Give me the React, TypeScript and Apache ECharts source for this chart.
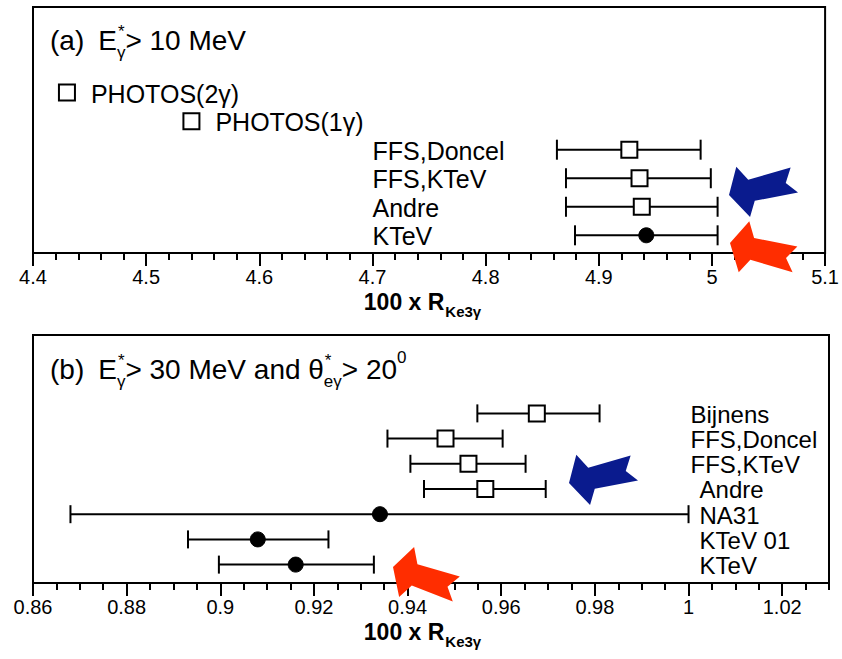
import React, { useEffect, useRef } from 'react';
import * as echarts from 'echarts';

// ---------- data ----------
// Panel (a): E*_gamma > 10 MeV, rows from top to bottom
const topNames = ['PHOTOS(2γ)', 'PHOTOS(1γ)', 'FFS,Doncel', 'FFS,KTeV', 'Andre', 'KTeV'];
const topValues = [4.43, 4.54, 4.927, 4.936, 4.938, 4.942];
const topLow: (number | null)[] = [null, null, 4.863, 4.871, 4.871, 4.879];
const topHigh: (number | null)[] = [null, null, 4.99, 4.999, 5.005, 5.005];
const topMeasured = [false, false, false, false, false, true];

// Panel (b): E*_gamma > 30 MeV and theta*_e_gamma > 20 deg, rows from top to bottom
const bottomNames = ['Bijnens', 'FFS,Doncel', 'FFS,KTeV', 'Andre', 'NA31', 'KTeV 01', 'KTeV'];
const bottomValues = [0.9676, 0.9481, 0.953, 0.9566, 0.9341, 0.908, 0.9161];
const bottomLow = [0.9549, 0.9357, 0.9406, 0.9435, 0.868, 0.8931, 0.8997];
const bottomHigh = [0.981, 0.9603, 0.9652, 0.9695, 1.0, 0.9231, 0.9328];
const bottomMeasured = [false, false, false, false, true, true, true];
const bottomTickValues = [0.86, 0.88, 0.9, 0.92, 0.94, 0.96, 0.98, 1.0, 1.02];

// ---------- styling ----------
const FONT = '"Liberation Sans", Arial, Helvetica, sans-serif';
const topLabelAnchor = 4.7; // x where row names start in panel (a)
const bottomLabelAnchor = 1.0; // x where row names start in panel (b)
const bottomLabelIndent = [2, 2, 2, 11, 11, 11, 11];
const TOP_ROW_FONT = 25;
const BOTTOM_ROW_FONT = 24;
const TITLE_SIZE = 28;
const SUB_SIZE = 17;
const NAME_SIZE = 23;
const NAME_SUB_SIZE = 15;

let measureCtx: CanvasRenderingContext2D | null = null;
function textWidth(text: string, size: number, weight = 'normal') {
  if (!measureCtx) measureCtx = document.createElement('canvas').getContext('2d');
  if (!measureCtx) return text.length * size * 0.55;
  measureCtx.font = `${weight} ${size}px ${FONT}`;
  return measureCtx.measureText(text).width;
}

type Piece = { text: string; kind: 'main' | 'sub' | 'sup' | 'subsup'; sup?: string; gap?: number };

function titleGraphics(pieces: Piece[], x0: number, yc: number) {
  const out: any[] = [];
  let x = x0;
  const mk = (text: string, x: number, y: number, size: number) => ({
    type: 'text', x, y,
    style: { text, fontSize: size, fontFamily: FONT, fill: '#000', verticalAlign: 'middle', align: 'left' },
  });
  for (const p of pieces) {
    x += p.gap || 0;
    if (p.kind === 'main') {
      out.push(mk(p.text, x, yc, TITLE_SIZE));
      x += textWidth(p.text, TITLE_SIZE);
    } else if (p.kind === 'sup') {
      out.push(mk(p.text, x, yc - 12, SUB_SIZE));
      x += textWidth(p.text, SUB_SIZE);
    } else {
      out.push(mk(p.text, x, yc + 12, SUB_SIZE));
      if (p.sup) out.push(mk(p.sup, x + 1, yc - 9, SUB_SIZE));
      x += Math.max(textWidth(p.text, SUB_SIZE), p.sup ? textWidth(p.sup, SUB_SIZE) : 0);
    }
  }
  return out;
}

function axisNameGraphics(xCenter: number, yc: number) {
  const main = '100 x R';
  const sub = 'Ke3γ';
  const wMain = textWidth(main, NAME_SIZE, 'bold');
  const wSub = textWidth(sub, NAME_SUB_SIZE, 'bold');
  const x0 = xCenter - (wMain + wSub) / 2;
  return [
    { type: 'text', x: x0, y: yc, style: { text: main, fontSize: NAME_SIZE, fontWeight: 'bold', fontFamily: FONT, fill: '#000', align: 'left', verticalAlign: 'middle' } },
    { type: 'text', x: x0 + wMain + 1, y: yc + 9, style: { text: sub, fontSize: NAME_SUB_SIZE, fontWeight: 'bold', fontFamily: FONT, fill: '#000', align: 'left', verticalAlign: 'middle' } },
  ];
}

function arrowPoints(tipX: number, tipY: number, angleDeg: number) {
  const local = [
    [0, 0], [13, -26], [22, -11], [66, -14], [58, 0], [68, 12], [24, 11], [16, 26],
  ];
  const a = (angleDeg * Math.PI) / 180;
  const c = Math.cos(a);
  const s = Math.sin(a);
  return local.map(([x, y]) => [tipX + x * c - y * s, tipY + x * s + y * c]);
}

function makeRows(names: string[], values: number[], low: (number | null)[], high: (number | null)[], measured: boolean[]) {
  const n = names.length;
  return names.map((name, i) => ({
    name, value: values[i], low: low[i], high: high[i], measured: measured[i], y: n - 1 - i, idx: i,
  }));
}

const fmt = (v: number) => String(parseFloat(v.toFixed(3)));

export default function App() {
  const ref = useRef<HTMLDivElement>(null);

  useEffect(() => {
    if (!ref.current) return;
    const chart = echarts.init(ref.current, undefined, { renderer: 'svg' });

    const topRows = makeRows(topNames, topValues, topLow, topHigh, topMeasured);
    const botRows = makeRows(bottomNames, bottomValues, bottomLow, bottomHigh, bottomMeasured);

    const errRender = (capHalf: number) => (params: any, api: any) => {
      const y = api.value(2);
      const p1 = api.coord([api.value(0), y]);
      const p2 = api.coord([api.value(1), y]);
      const st = { stroke: '#000', lineWidth: 2 };
      return {
        type: 'group',
        children: [
          { type: 'line', shape: { x1: p1[0], y1: p1[1], x2: p2[0], y2: p2[1] }, style: st },
          { type: 'line', shape: { x1: p1[0], y1: p1[1] - capHalf, x2: p1[0], y2: p1[1] + capHalf }, style: st },
          { type: 'line', shape: { x1: p2[0], y1: p2[1] - capHalf, x2: p2[0], y2: p2[1] + capHalf }, style: st },
        ],
      };
    };

    const pointData = (rows: any[]) =>
      rows.map((r) => ({
        value: [r.value, r.y],
        symbol: r.measured ? 'circle' : 'rect',
        symbolSize: r.measured ? 15 : 16,
        itemStyle: r.measured
          ? { color: '#000', borderColor: '#000', borderWidth: 1, opacity: 1 }
          : { color: '#fff', borderColor: '#000', borderWidth: 2, opacity: 1 },
      }));

    const minorBottom: number[] = [];
    for (let k = 0; k <= 34; k++) {
      const v = Math.round((0.86 + k * 0.005) * 1000) / 1000;
      if (k % 4 !== 0) minorBottom.push(v);
    }

    const rowText = (text: string, x: number, y: number, size: number) => ({
      type: 'text', x, y,
      style: { text, fill: '#000', fontSize: size, fontFamily: FONT, align: 'left', verticalAlign: 'middle' },
    });

    const option: any = {
      animation: false,
      backgroundColor: '#fff',
      grid: [
        { left: 33, right: 13, top: 7, height: 246, show: true, borderColor: '#000', borderWidth: 2, backgroundColor: 'transparent' },
        { left: 33, right: 13, top: 335, height: 248, show: true, borderColor: '#000', borderWidth: 2, backgroundColor: 'transparent' },
      ],
      xAxis: [
        {
          type: 'value', gridIndex: 0, min: 4.4, max: 5.1, interval: 0.1,
          axisLine: { show: true, onZero: false, lineStyle: { color: '#000', width: 2 } },
          splitLine: { show: false },
          axisTick: { show: true, length: 13, lineStyle: { color: '#000', width: 2 } },
          minorTick: { show: true, splitNumber: 5, length: 7, lineStyle: { color: '#000', width: 2 } },
          axisLabel: { color: '#000', fontSize: 20, fontFamily: FONT, margin: 14, formatter: (v: number) => fmt(v) },
        },
        {
          type: 'value', gridIndex: 1, min: 0.86, max: 1.03,
          axisLine: { show: true, onZero: false, lineStyle: { color: '#000', width: 2 } },
          splitLine: { show: false },
          axisTick: { show: true, length: 13, lineStyle: { color: '#000', width: 2 }, customValues: bottomTickValues },
          axisLabel: { color: '#000', fontSize: 20, fontFamily: FONT, margin: 14, customValues: bottomTickValues, formatter: (v: number) => fmt(v) },
        },
        {
          type: 'value', gridIndex: 1, min: 0.86, max: 1.03, position: 'bottom',
          axisLine: { show: false, onZero: false },
          splitLine: { show: false },
          axisTick: { show: true, length: 7, lineStyle: { color: '#000', width: 2 }, customValues: minorBottom },
          axisLabel: { show: false },
        },
      ],
      yAxis: [
        { type: 'value', gridIndex: 0, min: -0.62, max: 8, show: false },
        { type: 'value', gridIndex: 1, min: -0.73, max: 9.11, show: false },
      ],
      series: [
        {
          type: 'custom', xAxisIndex: 0, yAxisIndex: 0,
          renderItem: errRender(10), encode: { x: [0, 1], y: 2 },
          data: topRows.filter((r) => r.low !== null).map((r) => [r.low, r.high, r.y]),
          z: 2,
        },
        { type: 'scatter', xAxisIndex: 0, yAxisIndex: 0, data: pointData(topRows), z: 3 },
        {
          type: 'custom', xAxisIndex: 0, yAxisIndex: 0, encode: { x: 0, y: 1 },
          data: topRows.map((r) => [r.low !== null ? topLabelAnchor : r.value, r.y, r.idx]),
          renderItem: (params: any, api: any) => {
            const row = topRows[api.value(2)];
            const p = api.coord([api.value(0), api.value(1)]);
            const x = row.low !== null ? p[0] : p[0] + 24;
            return rowText(row.name, x, p[1] + 1, TOP_ROW_FONT);
          },
          z: 4,
        },
        {
          type: 'custom', xAxisIndex: 1, yAxisIndex: 1,
          renderItem: errRender(9), encode: { x: [0, 1], y: 2 },
          data: botRows.map((r) => [r.low, r.high, r.y]),
          z: 2,
        },
        { type: 'scatter', xAxisIndex: 1, yAxisIndex: 1, data: pointData(botRows), z: 3 },
        {
          type: 'custom', xAxisIndex: 1, yAxisIndex: 1, encode: { x: 0, y: 1 },
          data: botRows.map((r) => [bottomLabelAnchor, r.y, r.idx]),
          renderItem: (params: any, api: any) => {
            const row = botRows[api.value(2)];
            const p = api.coord([api.value(0), api.value(1)]);
            return rowText(row.name, p[0] + bottomLabelIndent[row.idx], p[1] + 1, BOTTOM_ROW_FONT);
          },
          z: 4,
        },
      ],
      graphic: [
        ...titleGraphics([
          { text: '(a)', kind: 'main' },
          { text: 'E', kind: 'main', gap: 14 },
          { text: 'γ', kind: 'subsup', sup: '*' },
          { text: '> 10 MeV', kind: 'main' },
        ], 50, 40),
        ...titleGraphics([
          { text: '(b)', kind: 'main' },
          { text: 'E', kind: 'main', gap: 14 },
          { text: 'γ', kind: 'subsup', sup: '*' },
          { text: '> 30 MeV and θ', kind: 'main' },
          { text: 'eγ', kind: 'subsup', sup: '*' },
          { text: '> 20', kind: 'main' },
          { text: '0', kind: 'sup' },
        ], 50, 369),
        ...axisNameGraphics(422, 302),
        ...axisNameGraphics(422, 632),
        { type: 'polygon', shape: { points: arrowPoints(729, 195, -12) }, style: { fill: '#0a1b8e' }, z: 10 },
        { type: 'polygon', shape: { points: arrowPoints(730, 243, 15) }, style: { fill: '#ff2d00' }, z: 10 },
        { type: 'polygon', shape: { points: arrowPoints(569, 483, -12) }, style: { fill: '#0a1b8e' }, z: 10 },
        { type: 'polygon', shape: { points: arrowPoints(393, 567, 20) }, style: { fill: '#ff2d00' }, z: 10 },
      ],
    };

    chart.setOption(option);
    return () => chart.dispose();
  }, []);

  return <div ref={ref} style={{ position: 'absolute', left: 0, top: 0, width: 842, height: 659 }} />;
}
